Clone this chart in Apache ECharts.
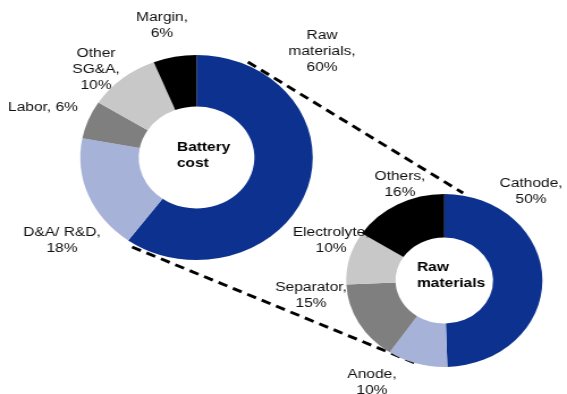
<!DOCTYPE html>
<html>
<head>
<meta charset="utf-8">
<script src="https://cdn.jsdelivr.net/npm/echarts@6/dist/echarts.min.js"></script>
<style>
  html, body { margin: 0; padding: 0; background: #fff; overflow: hidden; }
  #wrap { width: 567px; height: 394px; overflow: hidden; }
  /* the drawing is laid out on a 500px-wide canvas and widened to the page */
  #chart { width: 500px; height: 394px; transform: scaleX(1.134); transform-origin: 0 0; }
</style>
</head>
<body>
<div id="wrap"><div id="chart"></div></div>
<script>
// Battery cost breakdown (%)
const costCategories = ['Raw\nmaterials', 'D&A/ R&D', 'Labor', 'Other\nSG&A', 'Margin'];
const costValues = [60, 18, 6, 10, 6];

// Raw materials breakdown (%)
const rawCategories = ['Cathode', 'Anode', 'Separator', 'Electrolyte', 'Others'];
const rawValues = [50, 10, 15, 10, 16];

const sliceColors = ['#0c318e', '#a6b2d8', '#7f7f7f', '#c8c8c8', '#000000'];

// donut geometry
const bigCenter = [173.3, 157.5], bigRadius = [51, 102.5];
const smallCenter = [391.8, 280.5], smallRadius = [43, 86.5];

// label anchors (centre of each text block)
const bigLabelAt = [[284, 51], [54.7, 240], [37.9, 107], [84.7, 69], [142.9, 25.5]];
const bigLabelSep = ['\n', '\n', ' ', '\n', '\n'];
const smallLabelAt = [[468.3, 191], [328, 382.5], [274.3, 295], [292, 240], [352.7, 184.5]];

const labelFont = { fontFamily: 'Liberation Sans, Arial, sans-serif', fontSize: 13.7, lineHeight: 16, color: '#111' };

function donut(name, cats, vals, center, radius, anchors, seps) {
  return {
    type: 'pie',
    name: name,
    center: center,
    radius: radius,
    startAngle: 90,
    clockwise: true,
    avoidLabelOverlap: false,
    itemStyle: { borderWidth: 0 },
    emphasis: { disabled: true },
    label: Object.assign({
      show: true,
      position: 'outside',
      align: 'center',
      formatter: p => p.name + ',' + (seps ? seps[p.dataIndex] : '\n') + p.value + '%'
    }, labelFont),
    labelLine: { show: false },
    labelLayout: p => ({
      x: anchors[p.dataIndex][0],
      y: anchors[p.dataIndex][1],
      align: 'center',
      verticalAlign: 'middle'
    }),
    data: cats.map((c, i) => ({ name: c, value: vals[i], itemStyle: { color: sliceColors[i] } }))
  };
}

// point on a circle, angle measured clockwise from 12 o'clock
function polar(center, r, deg) {
  const a = deg * Math.PI / 180;
  return [center[0] + r * Math.sin(a), center[1] - r * Math.cos(a)];
}

function connector(a, b) {
  return {
    type: 'line',
    shape: { x1: a[0], y1: a[1], x2: b[0], y2: b[1] },
    style: { stroke: '#000', lineWidth: 2.9, lineDash: [8.5, 5.5] },
    silent: true
  };
}

const centerTitle = (text, x, y) => ({
  type: 'text',
  x: x, y: y,
  style: {
    text: text,
    fontFamily: 'Liberation Sans, Arial, sans-serif',
    fontWeight: 'bold',
    fontSize: 13.7,
    lineHeight: 16,
    fill: '#000',
    align: 'left',
    verticalAlign: 'middle'
  }
});

const chart = echarts.init(document.getElementById('chart'), null, { renderer: 'canvas' });
chart.setOption({
  backgroundColor: '#fff',
  animation: false,
  series: [
    donut('Battery cost', costCategories, costValues, bigCenter, bigRadius, bigLabelAt, bigLabelSep),
    donut('Raw materials', rawCategories, rawValues, smallCenter, smallRadius, smallLabelAt, null)
  ],
  graphic: [
    connector(polar(bigCenter, bigRadius[1] + 3.2, 25.4), polar(smallCenter, smallRadius[1] + 2.5, 10.7)),
    connector(polar(bigCenter, bigRadius[1] + 3.5, 212.4), polar(smallCenter, smallRadius[1], 197.4)),
    centerTitle('Battery\ncost', 156, 155),
    centerTitle('Raw\nmaterials', 367.7, 275.5)
  ]
});
</script>
</body>
</html>
